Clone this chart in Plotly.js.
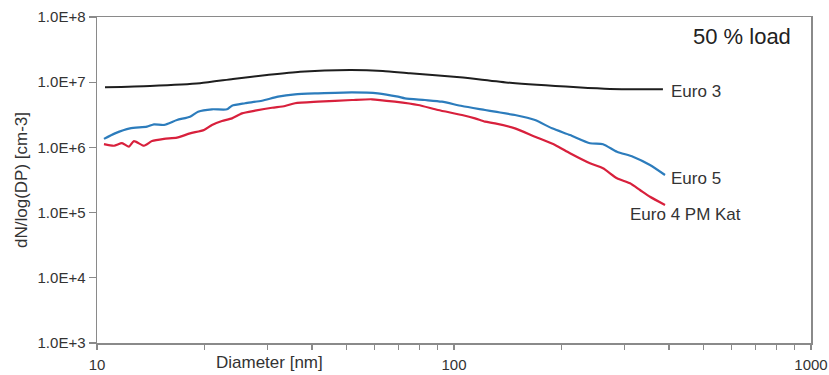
<!DOCTYPE html>
<html>
<head>
<meta charset="utf-8">
<script src="https://cdn.plot.ly/plotly-3.0.1.min.js"></script>
<style>html,body{margin:0;padding:0;background:#fff;}#chart{width:829px;height:375px;}</style>
</head>
<body>
<div id="chart"></div>
<script>
// Euro 3 (black)
var euro3D = [10.53, 14.08, 19.43, 24.04, 29.93, 37.04, 51.1, 63.2, 75.3, 103.9, 143.5, 221.1, 273.5, 384.8];
var euro3N = [8.35e6, 8.75e6, 9.62e6, 1.12e7, 1.29e7, 1.45e7, 1.54e7, 1.49e7, 1.37e7, 1.19e7, 9.8e6, 8.35e6, 7.87e6, 7.78e6];

// Euro 5 (blue)
var euro5D = [10.46, 11.23, 12.37, 13.80, 14.44, 15.41, 16.75, 18.22, 19.19, 20.99, 23.13, 23.88, 25.98, 28.98, 32.14, 35.86, 41.6, 51.8, 61.2, 69.7, 72.9, 82.9, 92.5, 105.3, 122.2, 130.3, 148.2, 168.6, 188.2, 211.3, 240.4, 261.4, 286.1, 317.1, 354.0, 390.0];
var euro5N = [1.35e6, 1.64e6, 1.96e6, 2.08e6, 2.26e6, 2.21e6, 2.63e6, 2.96e6, 3.53e6, 3.84e6, 3.84e6, 4.36e6, 4.75e6, 5.20e6, 6.0e6, 6.52e6, 6.76e6, 7.0e6, 6.76e6, 6.0e6, 5.66e6, 5.33e6, 5.02e6, 4.31e6, 3.75e6, 3.53e6, 3.14e6, 2.63e6, 1.96e6, 1.55e6, 1.16e6, 1.12e6, 8.59e5, 7.20e5, 5.37e5, 3.77e5];

// Euro 4 PM Kat (red)
var euro4D = [10.46, 11.16, 11.75, 12.29, 12.69, 13.54, 14.26, 15.41, 16.75, 18.22, 19.94, 20.99, 22.39, 23.88, 25.48, 27.71, 30.92, 33.62, 35.86, 41.6, 51.8, 58.9, 68.3, 79.3, 90.2, 105.3, 114.5, 122.2, 130.3, 148.2, 168.6, 191.9, 211.3, 240.4, 261.4, 286.1, 311.2, 331.9, 354.0, 390.0];
var euro4N = [1.12e6, 1.06e6, 1.16e6, 1.03e6, 1.25e6, 1.06e6, 1.25e6, 1.35e6, 1.41e6, 1.64e6, 1.85e6, 2.21e6, 2.54e6, 2.79e6, 3.33e6, 3.66e6, 4.06e6, 4.31e6, 4.75e6, 5.02e6, 5.33e6, 5.47e6, 5.02e6, 4.47e6, 3.75e6, 3.14e6, 2.79e6, 2.48e6, 2.34e6, 1.96e6, 1.46e6, 1.09e6, 8.12e5, 5.70e5, 4.78e5, 3.36e5, 2.81e5, 2.22e5, 1.75e5, 1.31e5];

var yTickVals = [1e3, 1e4, 1e5, 1e6, 1e7, 1e8];
var yTickText = ['1.0E+3', '1.0E+4', '1.0E+5', '1.0E+6', '1.0E+7', '1.0E+8'];
var xTickVals = [10, 20, 30, 40, 50, 60, 70, 80, 90, 100, 200, 300, 400, 500, 600, 700, 800, 900, 1000];
var xTickText = ['10', '', '', '', '', '', '', '', '', '100', '', '', '', '', '', '', '', '', '1000'];

var FONT = 'Arial, "Liberation Sans", Helvetica, sans-serif';
var AXC = '#8a8a8a';

var traces = [
  {x: euro3D, y: euro3N, type: 'scatter', mode: 'lines', line: {color: '#1e1e1e', width: 2, shape: 'spline', smoothing: 0.6}, hoverinfo: 'skip'},
  {x: euro5D, y: euro5N, type: 'scatter', mode: 'lines', line: {color: '#2c7cbc', width: 2.2, shape: 'spline', smoothing: 0.6}, hoverinfo: 'skip'},
  {x: euro4D, y: euro4N, type: 'scatter', mode: 'lines', line: {color: '#d8203c', width: 2.2, shape: 'spline', smoothing: 0.6}, hoverinfo: 'skip'}
];

var layout = {
  width: 829, height: 375,
  margin: {l: 97, r: 18, t: 17, b: 32, pad: 0},
  paper_bgcolor: '#fff', plot_bgcolor: '#fff',
  showlegend: false,
  font: {family: FONT, color: '#333', size: 15},
  xaxis: {
    type: 'log', range: [1, 3], tickmode: 'array', tickvals: xTickVals, ticktext: xTickText,
    ticks: 'outside', ticklen: 5, tickwidth: 1.2, tickcolor: AXC,
    showline: true, linecolor: AXC, linewidth: 1.5, mirror: true,
    showgrid: false, zeroline: false, tickfont: {size: 15, color: '#333'},
    ticklabelstandoff: 2
  },
  yaxis: {
    type: 'log', range: [3, 8], tickmode: 'array', tickvals: yTickVals, ticktext: yTickText,
    ticks: 'outside', ticklen: 7, tickwidth: 1.2, tickcolor: AXC,
    showline: true, linecolor: AXC, linewidth: 1.5, mirror: true,
    showgrid: false, zeroline: false, tickfont: {size: 15, color: '#333'},
    title: {text: 'dN/log(DP) [cm-3]', font: {size: 17, color: '#333'}, standoff: 5}
  },
  annotations: [
    {xref: 'paper', yref: 'paper', x: 0.975, y: 0.939, xanchor: 'right', yanchor: 'middle', text: '50 % load', showarrow: false, font: {size: 22, color: '#222'}},
    {xref: 'paper', yref: 'paper', x: 0.801, y: 0.773, xanchor: 'left', yanchor: 'middle', text: 'Euro 3', showarrow: false, font: {size: 17, color: '#333'}},
    {xref: 'paper', yref: 'paper', x: 0.801, y: 0.506, xanchor: 'left', yanchor: 'middle', text: 'Euro 5', showarrow: false, font: {size: 17, color: '#333'}},
    {xref: 'paper', yref: 'paper', x: 0.744, y: 0.393, xanchor: 'left', yanchor: 'middle', text: 'Euro 4 PM Kat', showarrow: false, font: {size: 17, color: '#333'}},
    {xref: 'paper', yref: 'paper', x: 0.241, y: -0.061, xanchor: 'center', yanchor: 'middle', text: 'Diameter [nm]', showarrow: false, font: {size: 17, color: '#333'}}
  ]
};

Plotly.newPlot('chart', traces, layout, {staticPlot: true, displayModeBar: false});
</script>
</body>
</html>
